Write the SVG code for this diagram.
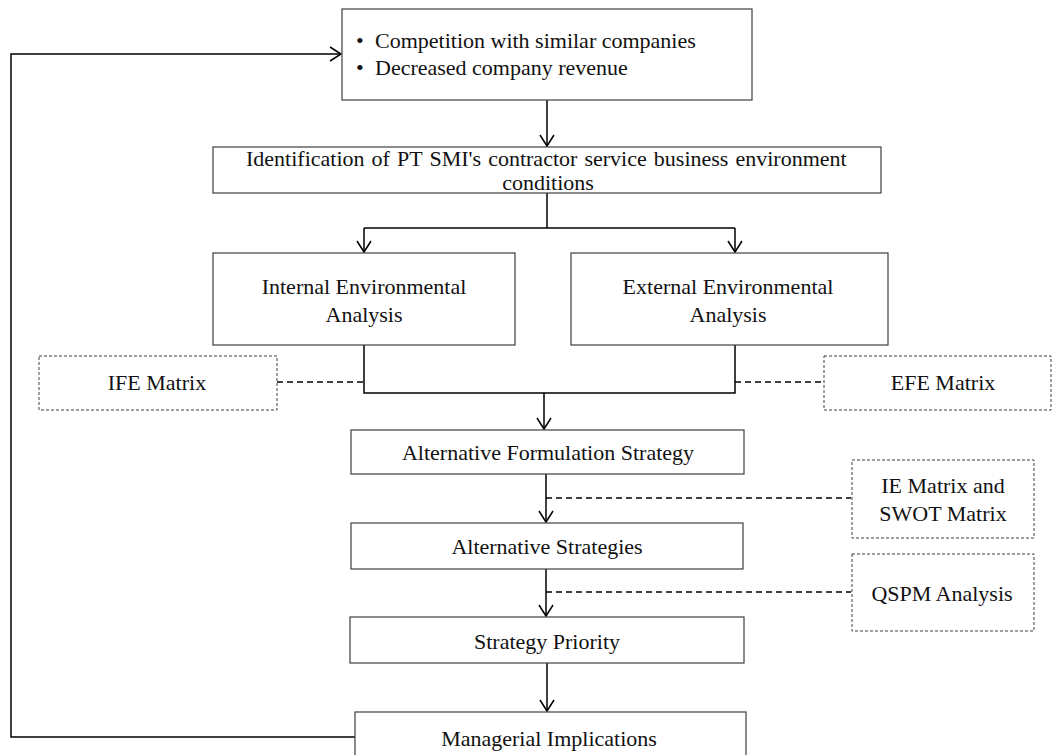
<svg xmlns="http://www.w3.org/2000/svg" width="1053" height="755" viewBox="0 0 1053 755">
<defs>
<style>
.box{fill:#fff;stroke:#404040;stroke-width:1.2}
.dbox{fill:#fff;stroke:#404040;stroke-width:1;stroke-dasharray:3 2}
.t{font-family:"Liberation Serif","Times New Roman",serif;font-size:22px;fill:#111}
.c{text-anchor:middle}
.ln{fill:none;stroke:#000;stroke-width:1.5}
.dl{fill:none;stroke:#000;stroke-width:1.3;stroke-dasharray:6 4}
</style>
<marker id="arr" markerUnits="userSpaceOnUse" markerWidth="14" markerHeight="16" viewBox="0 0 14 16" refX="12" refY="8" orient="auto">
<path d="M1,1 L12,8 L1,15" fill="none" stroke="#000" stroke-width="1.5"/>
</marker>
</defs>
<rect width="1053" height="755" fill="#fff"/>
<g id="connectors">
<polyline class="ln" points="355,737 11,737 11,54 341,54" marker-end="url(#arr)"/>
<line class="ln" x1="547" y1="100" x2="547" y2="146" marker-end="url(#arr)"/>
<polyline class="ln" points="547,193 547,228"/>
<line class="ln" x1="364" y1="228" x2="735" y2="228"/>
<line class="ln" x1="364" y1="228" x2="364" y2="252" marker-end="url(#arr)"/>
<line class="ln" x1="735" y1="228" x2="735" y2="252" marker-end="url(#arr)"/>
<polyline class="ln" points="364,345 364,393 735,393 735,345"/>
<line class="ln" x1="544" y1="393" x2="544" y2="429" marker-end="url(#arr)"/>
<line class="dl" x1="277" y1="382" x2="364" y2="382"/>
<line class="dl" x1="735" y1="382" x2="824" y2="382"/>
<line class="ln" x1="546" y1="474" x2="546" y2="522" marker-end="url(#arr)"/>
<line class="dl" x1="546" y1="498" x2="851" y2="498"/>
<line class="ln" x1="546" y1="569" x2="546" y2="616" marker-end="url(#arr)"/>
<line class="dl" x1="546" y1="592" x2="851" y2="592"/>
<line class="ln" x1="547" y1="663" x2="547" y2="711" marker-end="url(#arr)"/>
</g>
<g id="problem">
<rect class="box" x="342" y="9" width="410" height="91"/>
<text class="t" x="356" y="48">•</text>
<text class="t" x="375" y="48">Competition with similar companies</text>
<text class="t" x="356" y="75">•</text>
<text class="t" x="375" y="75">Decreased company revenue</text>
</g>
<g id="identification">
<rect class="box" x="213" y="147" width="668" height="46"/>
<text class="t" x="246" y="166" word-spacing="1.6">Identification of PT SMI's contractor service business environment</text>
<text class="t c" x="548" y="190">conditions</text>
</g>
<g id="internal">
<rect class="box" x="213" y="253" width="302" height="92"/>
<text class="t c" x="364" y="294">Internal Environmental</text>
<text class="t c" x="364" y="322">Analysis</text>
</g>
<g id="external">
<rect class="box" x="571" y="253" width="317" height="92"/>
<text class="t c" x="728" y="294">External Environmental</text>
<text class="t c" x="728" y="322">Analysis</text>
</g>
<g id="ife">
<rect class="dbox" x="39" y="356" width="238" height="54"/>
<text class="t c" x="157" y="390">IFE Matrix</text>
</g>
<g id="efe">
<rect class="dbox" x="824" y="356" width="227" height="54"/>
<text class="t c" x="943" y="390">EFE Matrix</text>
</g>
<g id="formulation">
<rect class="box" x="351" y="430" width="393" height="44"/>
<text class="t c" x="548" y="460">Alternative Formulation Strategy</text>
</g>
<g id="ie-swot">
<rect class="dbox" x="852" y="460" width="182" height="78"/>
<text class="t c" x="943" y="493">IE Matrix and</text>
<text class="t c" x="943" y="521">SWOT Matrix</text>
</g>
<g id="alternatives">
<rect class="box" x="351" y="523" width="392" height="46"/>
<text class="t c" x="547" y="554">Alternative Strategies</text>
</g>
<g id="qspm">
<rect class="dbox" x="852" y="554" width="182" height="77"/>
<text class="t c" x="942" y="601">QSPM Analysis</text>
</g>
<g id="priority">
<rect class="box" x="350" y="617" width="394" height="46"/>
<text class="t c" x="547" y="649">Strategy Priority</text>
</g>
<g id="managerial">
<rect class="box" x="355" y="712" width="391" height="50"/>
<text class="t c" x="549" y="746">Managerial Implications</text>
</g>
</svg>
